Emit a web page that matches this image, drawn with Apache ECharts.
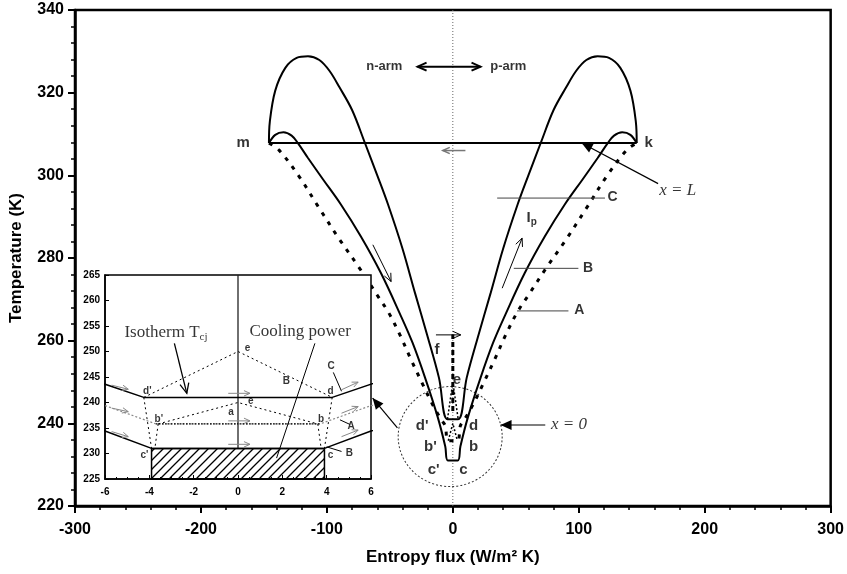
<!DOCTYPE html>
<html>
<head>
<meta charset="utf-8">
<script src="https://cdn.jsdelivr.net/npm/echarts@6/dist/echarts.min.js"></script>
<style>
html,body{margin:0;padding:0;background:#fff}
#chart{width:847px;height:574px}
</style>
</head>
<body>
<div id="chart"></div>
<script>
// T-s diagram of the thermoelectric couple, curves
// curve C : big loop, cold end at isotherm d (241 K)
var curveC = [
  [-146,307.8],[-145.3,313],[-141,320.5],[-133,326],[-124,328.4],[-115,328.8],[-106,327.9],[-98,325.3],
  [-90,321.3],[-80,315.8],[-70,308],[-60,300],[-51.5,293],[-40,282.3],[-30,271.5],[-20.5,261.5],[-11,251],[-4.25,241],
  [4.25,241],[11,251],[20.5,261.5],[30,271.5],[40,282.3],[51.5,293],[60,300],[70,308],[80,315.8],[90,321.3],
  [98,325.3],[106,327.9],[115,328.8],[124,328.4],[133,326],[141,320.5],[145.3,313],[146,307.8]
];
// curve B : small loop, cold end at c (231 K)
var curveB = [
  [-146,307.8],[-141,309.8],[-134.5,310.4],[-128,309.6],[-123,307.8],[-115,304.2],[-103,299],[-89,293],
  [-73,285.2],[-57,276.3],[-42,266.5],[-32,259.5],[-22,251],[-12,241.5],[-6,234.4],[-3.9,231],
  [3.9,231],[6,234.4],[12,241.5],[22,251],[32,259.5],[42,266.5],[57,276.3],[73,285.2],[89,293],
  [103,299],[115,304.2],[123,307.8],[128,309.6],[134.5,310.4],[141,309.8],[146,307.8]
];
// curve A : dotted, cold end at b (236 K)
var curveA = [
  [-146,307.8],[-138,306.1],[-122,299.7],[-107,292.5],[-90,284.5],[-74,277.5],[-60,271],[-51,266.8],
  [-42,261.4],[-33,255.3],[-24,249.5],[-16,244.5],[-9,240.8],[-6,239.4],[-3.7,235.8],
  [3.7,235.8],[6,239.4],[9,240.8],[16,244.5],[24,249.5],[33,255.3],[42,261.4],[51,266.8],[60,271],
  [74,277.5],[90,284.5],[107,292.5],[122,299.7],[138,306.1],[146,307.8]
];
var lineMK = [[-146,307.8],[146,307.8]];
var zeroLine = [[0,220],[0,340]];
var fLine = [[0,243],[0,261.5]];
var isoB = [[-3.7,235.8],[3.7,235.8]];
var tentUpper = [[-4.25,241],[0,250],[4.25,241]];
var tentLower = [[-3.6,235.8],[0,240],[3.6,235.8]];
var linkLeftOuter = [[-4.25,241],[-3.9,231]];
var linkLeftInner = [[-3.6,235.8],[-3.75,231]];
var linkRightOuter = [[4.25,241],[3.9,231]];
var linkRightInner = [[3.6,235.8],[3.75,231]];
var insetAxisLine = [[0,231],[0,265]];
var coolingRect = [[-3.9,225,3.9,231]];
var zoomCircle = [[-2.1,236.8]];

// label leader lines in the main plot
var tagLineC = [[35.2,294.5],[120.8,294.5]];
var tagLineB = [[48.4,277.5],[99.7,277.5]];
var tagLineA = [[51,267.2],[91.8,267.2]];

// arrows [x1, y1, x2, y2] (head at x2, y2)
var armArrow = [[-28,326.3,22,326.3]];
var openArrowsMain = [[39.2,272.7,55,284.8],[-63.5,283.2,-49,274.3],[-13.4,261.4,6.3,261.4]];
var grayArrowMain = [[10,306,-8,306]];
var filledArrowsMain = [[163,298,102.3,307.8],[-44,238.9,-63.7,246.1],[73.4,239.6,37.9,239.6]];
var grayArrowsInset = [
  [-5.7,243.4,-4.95,242.6],[-5.7,238.9,-4.95,238.2],[-5.7,234.3,-4.95,233.3],
  [-0.44,241.8,0.54,241.8],[-0.44,236.4,0.54,236.4],[-0.44,231.8,0.54,231.8],
  [4.67,242.5,5.42,244],[4.67,237.9,5.42,239.2],[4.67,233.3,5.42,234.6]
];
var isothermArrow = [[-2.87,251.6,-2.31,241.8]];
var insetLeaders = [[3.47,251.6,1.74,229.1],[4.3,245.9,4.67,242.2],[4.6,236.6,5.05,235.7],[4.0,231.3,4.67,230.4]];

// texts [x, y, text]
var pointLabels = [
  [-166,307.8,'m'],[156,307.8,'k'],[-12.2,257.7,'f'],[3.6,250.5,'e'],
  [-24,239.2,"d'"],[16.8,239.2,'d'],[-17.4,234.3,"b'"],[16.8,234.3,'b'],
  [-14.8,228.7,"c'"],[8.9,228.7,'c'],[63,289.5,'I{s|p}']
];
var armLabels = [[-54,326.3,'n-arm'],[44.5,326.3,'p-arm']];
var curveTags = [[123.3,294.5,'C'],[103.7,277.5,'B'],[96.8,267.2,'A']];
var mathLabels = [[164.3,296.1,'x = L'],[78.4,239.6,'x = 0']];
var insetTags = [
  [0.45,250.6,'e'],[0.6,240.2,'e'],[-0.29,237.9,'a'],[-4.07,242.2,"d'"],[4.2,242.1,'d'],
  [-3.55,236.6,"b'"],[3.77,236.6,'b'],[-4.2,229.6,"c'"],[4.2,229.6,'c'],
  [2.2,244,'B'],[4.22,247,'C'],[5.13,235.3,'A'],[5.05,230,'B']
];
var insetNotes = [[-5.1,253.6,'Isotherm T{s|cj}'],[0.54,253.9,'Cooling power']];

var sans = '"Liberation Sans", Arial, sans-serif';
var serif = '"Liberation Serif", "Times New Roman", serif';

function lineS(data, gi, style, z, smooth) {
  return {type:'line', data:data, xAxisIndex:gi, yAxisIndex:gi, symbol:'none', showSymbol:false,
    smooth:smooth || false, lineStyle:style, z:z, silent:true};
}

function arrowS(data, gi, opt, z) {
  return {
    type:'custom', xAxisIndex:gi, yAxisIndex:gi, z:z, silent:true, data:data,
    renderItem:function (params, api) {
      var p1 = api.coord([api.value(0), api.value(1)]);
      var p2 = api.coord([api.value(2), api.value(3)]);
      var dx = p2[0]-p1[0], dy = p2[1]-p1[1];
      var len = Math.sqrt(dx*dx+dy*dy) || 1;
      var ux = dx/len, uy = dy/len;
      var h = opt.head || 0, w = h*0.45;
      function head(p, vx, vy) {
        var bx = p[0]-vx*h, by = p[1]-vy*h;
        return [[bx-vy*w, by+vx*w],[p[0],p[1]],[bx+vy*w, by-vx*w]];
      }
      var kids = [{type:'line', shape:{x1:p1[0],y1:p1[1],x2:p2[0],y2:p2[1]},
        style:{stroke:opt.color, lineWidth:opt.width}}];
      if (h > 0) {
        var heads = [head(p2, ux, uy)];
        if (opt.both) heads.push(head(p1, -ux, -uy));
        heads.forEach(function (pts) {
          if (opt.filled) kids.push({type:'polygon', shape:{points:pts}, style:{fill:opt.color}});
          else kids.push({type:'polyline', shape:{points:pts}, style:{stroke:opt.color, lineWidth:opt.width, fill:null}});
        });
      }
      return {type:'group', children:kids};
    }
  };
}

function textS(items, gi, style, align, z) {
  return {
    type:'scatter', xAxisIndex:gi, yAxisIndex:gi, symbolSize:1, z:z, silent:true,
    itemStyle:{color:'rgba(0,0,0,0)'},
    data:items.map(function (t) { return {name:t[2], value:[t[0], t[1]]}; }),
    label:Object.assign({show:true, formatter:'{b}', position:[0,0], align:align,
      verticalAlign:'middle', color:'#000'}, style)
  };
}

// hatch pattern for the cooling power block
var hatch = document.createElement('canvas');
hatch.width = 9; hatch.height = 9;
var hc = hatch.getContext('2d');
hc.strokeStyle = '#000'; hc.lineWidth = 1.3;
hc.beginPath();
hc.moveTo(0,9); hc.lineTo(9,0);
hc.moveTo(-1,1); hc.lineTo(1,-1);
hc.moveTo(8,10); hc.lineTo(10,8);
hc.stroke();

var chart = echarts.init(document.getElementById('chart'));
var option = {
  animation:false,
  backgroundColor:'#fff',
  grid:[
    {left:74, top:10, right:13, bottom:68, show:true, borderColor:'#000', borderWidth:2.5, z:0},
    {left:105, top:275, width:266, height:204, show:true, backgroundColor:'#fff',
      borderColor:'#000', borderWidth:1.5, z:10}
  ],
  xAxis:[
    {gridIndex:0, type:'value', min:-300, max:300, interval:100,
      axisLine:{onZero:false, lineStyle:{color:'#000', width:2.5}},
      axisTick:{length:7, lineStyle:{color:'#000', width:2}},
      minorTick:{show:true, splitNumber:5, length:4, lineStyle:{color:'#000', width:1.5}},
      splitLine:{show:false},
      axisLabel:{color:'#000', fontSize:16, fontWeight:'bold', fontFamily:sans, margin:16},
      name:'Entropy flux (W/m² K)', nameLocation:'middle', nameGap:43,
      nameTextStyle:{color:'#000', fontSize:17, fontWeight:'bold', fontFamily:sans}},
    {gridIndex:1, type:'value', min:-6, max:6, interval:2, z:11,
      axisLine:{onZero:false, lineStyle:{color:'#000', width:1.5}},
      axisTick:{inside:true, length:4, lineStyle:{color:'#000', width:1}},
      minorTick:{show:true, splitNumber:4, length:2, lineStyle:{color:'#000', width:1}},
      splitLine:{show:false},
      axisLabel:{color:'#000', fontSize:10, fontWeight:'bold', fontFamily:sans, margin:8}}
  ],
  yAxis:[
    {gridIndex:0, type:'value', min:220, max:340, interval:20,
      axisLine:{onZero:false, lineStyle:{color:'#000', width:2.5}},
      axisTick:{length:7, lineStyle:{color:'#000', width:2}},
      minorTick:{show:true, splitNumber:5, length:4, lineStyle:{color:'#000', width:1.5}},
      splitLine:{show:false},
      axisLabel:{color:'#000', fontSize:16, fontWeight:'bold', fontFamily:sans, margin:11},
      name:'Temperature (K)', nameLocation:'middle', nameGap:50,
      nameTextStyle:{color:'#000', fontSize:17, fontWeight:'bold', fontFamily:sans}},
    {gridIndex:1, type:'value', min:225, max:265, interval:5, z:11,
      axisLine:{onZero:false, lineStyle:{color:'#000', width:1.5}},
      axisTick:{inside:true, length:4, lineStyle:{color:'#000', width:1}},
      splitLine:{show:false},
      axisLabel:{color:'#000', fontSize:10, fontWeight:'bold', fontFamily:sans, margin:5}}
  ],
  series:[
    // main plot
    lineS(zeroLine, 0, {color:'#666', width:1, type:[1,2]}, 1),
    lineS(curveC, 0, {color:'#000', width:2}, 2, 0.35),
    lineS(curveB, 0, {color:'#000', width:2}, 2, 0.35),
    lineS(curveA, 0, {color:'#000', width:3, type:[4,7]}, 2, 0.35),
    lineS(lineMK, 0, {color:'#000', width:2}, 2),
    lineS(fLine, 0, {color:'#000', width:3, type:[5,3]}, 2),
    lineS(tentUpper, 0, {color:'#000', width:1.5, type:[2,2]}, 2),
    lineS(tentLower, 0, {color:'#000', width:1.5, type:[2,2]}, 2),
    lineS(tagLineC, 0, {color:'#444', width:1}, 2),
    lineS(tagLineB, 0, {color:'#444', width:1}, 2),
    lineS(tagLineA, 0, {color:'#444', width:1}, 2),
    {type:'scatter', xAxisIndex:0, yAxisIndex:0, data:zoomCircle, symbol:'circle', symbolSize:[104,100],
      silent:true, z:2, itemStyle:{color:'rgba(0,0,0,0)', borderColor:'#000', borderWidth:1, borderType:[2,2]}},
    arrowS(armArrow, 0, {color:'#000', width:2, head:9, both:true}, 3),
    arrowS(openArrowsMain, 0, {color:'#000', width:1, head:8}, 3),
    arrowS(grayArrowMain, 0, {color:'#777', width:1.5, head:7}, 3),
    arrowS(filledArrowsMain, 0, {color:'#000', width:1.2, head:11, filled:true}, 3),
    textS(pointLabels, 0, {fontSize:15, fontWeight:'bold', fontFamily:sans,
      rich:{s:{fontSize:10, fontWeight:'bold', fontFamily:sans, verticalAlign:'bottom', padding:[8,0,0,0]}}}, 'center', 4),
    textS(armLabels, 0, {fontSize:13, fontWeight:'bold', fontFamily:sans}, 'center', 4),
    textS(curveTags, 0, {fontSize:14, fontWeight:'bold', fontFamily:sans}, 'left', 4),
    textS(mathLabels, 0, {fontSize:17, fontStyle:'italic', fontFamily:serif}, 'left', 4),

    // inset : zoom of the cold ends
    {type:'custom', xAxisIndex:1, yAxisIndex:1, z:12, silent:true, data:coolingRect,
      renderItem:function (params, api) {
        var a = api.coord([api.value(0), api.value(1)]);
        var b = api.coord([api.value(2), api.value(3)]);
        return {type:'rect',
          shape:{x:Math.min(a[0],b[0]), y:Math.min(a[1],b[1]), width:Math.abs(b[0]-a[0]), height:Math.abs(b[1]-a[1])},
          style:{fill:{image:hatch, repeat:'repeat'}, stroke:'#000', lineWidth:1.5}};
      }},
    lineS(insetAxisLine, 1, {color:'#222', width:1.3}, 13),
    lineS(curveC, 1, {color:'#000', width:1.5}, 13),
    lineS(curveB, 1, {color:'#000', width:1.5}, 13),
    lineS(curveA, 1, {color:'#888', width:1.2, type:[2,2]}, 13),
    lineS(isoB, 1, {color:'#000', width:1.2, type:[1.5,1.5]}, 13),
    lineS(tentUpper, 1, {color:'#000', width:1, type:[2,3]}, 13),
    lineS(tentLower, 1, {color:'#000', width:1, type:[2,3]}, 13),
    lineS(linkLeftOuter, 1, {color:'#000', width:1, type:[2,3]}, 13),
    lineS(linkLeftInner, 1, {color:'#000', width:1, type:[2,3]}, 13),
    lineS(linkRightOuter, 1, {color:'#000', width:1, type:[2,3]}, 13),
    lineS(linkRightInner, 1, {color:'#000', width:1, type:[2,3]}, 13),
    arrowS(grayArrowsInset, 1, {color:'#888', width:1, head:6}, 14),
    arrowS(isothermArrow, 1, {color:'#000', width:1.3, head:10}, 14),
    arrowS(insetLeaders, 1, {color:'#000', width:1, head:0}, 14),
    textS(insetTags, 1, {fontSize:10, fontWeight:'bold', fontFamily:sans}, 'center', 15),
    textS(insetNotes, 1, {fontSize:17, fontFamily:serif,
      rich:{s:{fontSize:11, fontFamily:serif, verticalAlign:'bottom', padding:[9,0,0,0]}}}, 'left', 15)
  ]
};
chart.setOption(option);
</script>
</body>
</html>
